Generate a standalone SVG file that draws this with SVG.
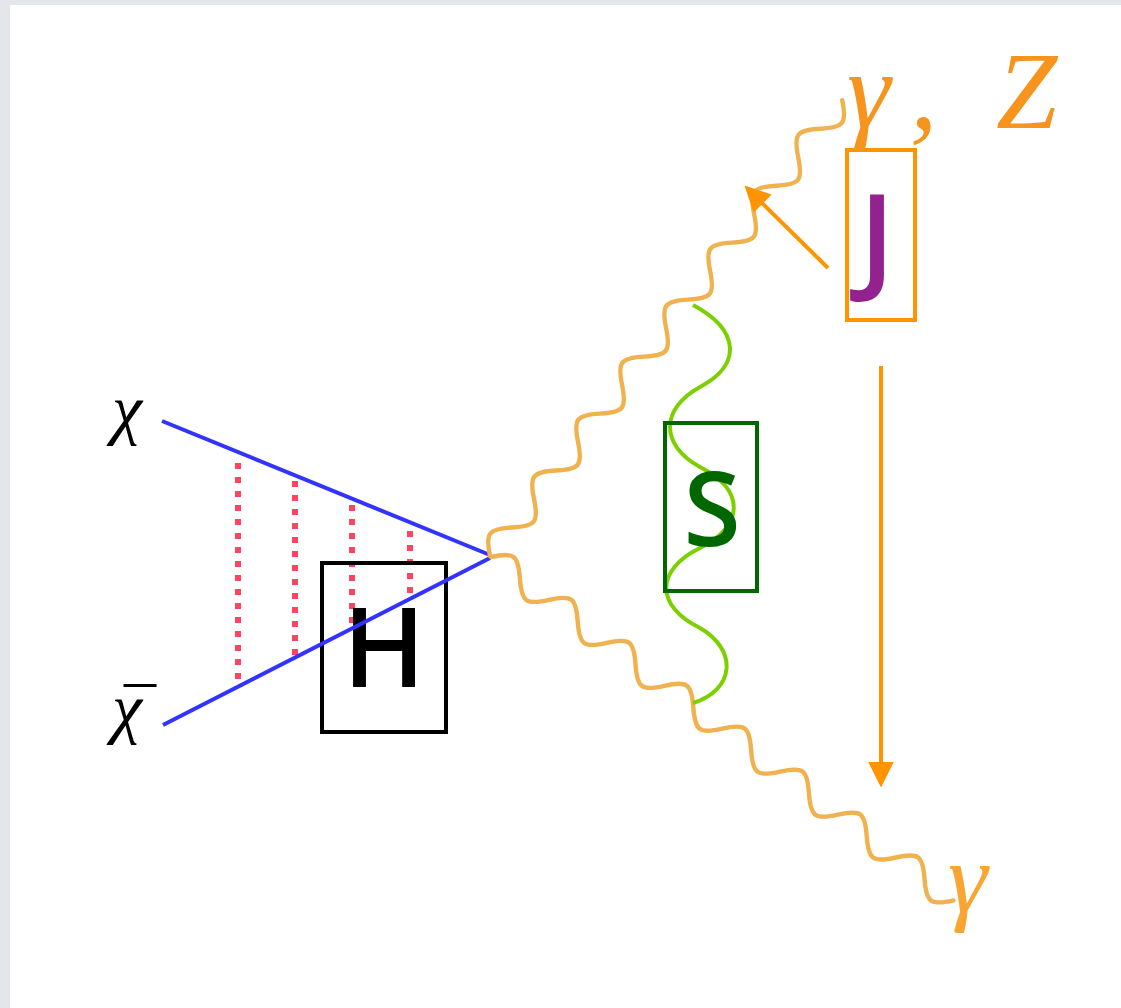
<svg xmlns="http://www.w3.org/2000/svg" width="1121" height="1008" viewBox="0 0 1121 1008">
<style>
.photon{fill:none;stroke:#f0b24e;stroke-width:4.4;stroke-linecap:round}
.fermion{stroke:#3333ff;stroke-width:4;fill:none}
.ladder{stroke:#ff4462;stroke-width:6;stroke-dasharray:6 8;fill:none}
.arrow{stroke:#ff9400;stroke-width:4;fill:none;marker-end:url(#ah)}
.math{font-family:"Liberation Serif","DejaVu Serif",serif;font-style:italic}
.lbl{font-family:"Open Sans","Liberation Sans",sans-serif;font-weight:600}
</style>
<defs>
<marker id="ah" viewBox="0 0 10 10" refX="2" refY="5" markerWidth="6.4" markerHeight="6.4" orient="auto" markerUnits="strokeWidth">
<path d="M0,0 L10,5 L0,10 z" fill="#ff9400"/>
</marker>
</defs>
<rect x="0" y="0" width="1121" height="1008" fill="#e3e6ea"/>
<rect x="10" y="5" width="1111" height="1003" fill="#ffffff"/>

<g id="connectors">
<line class="ladder" x1="238" y1="463" x2="238" y2="684"/>
<line class="ladder" x1="295" y1="481" x2="295" y2="656"/>
<line class="ladder" x1="352" y1="505" x2="352" y2="628"/>
<line class="ladder" x1="410" y1="531" x2="410" y2="598"/>
</g>

<g id="node-H">
<rect x="322" y="563" width="124" height="169" fill="none" stroke="#000" stroke-width="4"/>
<text class="lbl" x="384" y="687" font-size="110" text-anchor="middle" fill="#000">H</text>
</g>

<g id="connectors-lines">
<line class="fermion" x1="162" y1="421" x2="490" y2="555"/>
<line class="fermion" x1="163" y1="725" x2="490" y2="558"/>
<path class="photon" transform="translate(490,556) rotate(-52.3)" d="M0,0 c15.3,-18 20.7,-18 36,0 s20.7,18 36,0 s20.7,-18 36,0 s20.7,18 36,0 s20.7,-18 36,0 s20.7,18 36,0 s20.7,-18 36,0 s20.7,18 36,0 s20.7,-18 36,0 s20.7,18 36,0 s20.7,-18 36,0 s20.7,18 36,0 s20.7,-18 36,0 s20.7,18 36,0 s20.7,-18 36,0 s20.7,18 36,0"/>
<path class="photon" transform="translate(491,557) rotate(36.6)" d="M0,0 c15.3,-18 20.7,-18 36,0 s20.7,18 36,0 s20.7,-18 36,0 s20.7,18 36,0 s20.7,-18 36,0 s20.7,18 36,0 s20.7,-18 36,0 s20.7,18 36,0 s20.7,-18 36,0 s20.7,18 36,0 s20.7,-18 36,0 s20.7,18 36,0 s20.7,-18 36,0 s20.7,18 36,0 s20.7,-18 36,0 s20.7,18 36,0"/>
<path d="M693,305 C740,330 742,365 700,387 C660,409 660,445 700,467 C745,490 745,525 700,548 C655,570 655,606 700,628 C738,650 735,690 693,703" fill="none" stroke="#7dd000" stroke-width="4"/>
<line class="arrow" x1="828" y1="268" x2="759" y2="200"/>
<line class="arrow" x1="881" y1="366" x2="881" y2="767"/>
</g>

<g id="node-S">
<rect x="665" y="423" width="92" height="168" fill="none" stroke="#006600" stroke-width="4"/>
<text class="lbl" x="712" y="546" font-size="104" text-anchor="middle" fill="#006600">S</text>
</g>

<g id="node-J">
<rect x="847" y="150" width="68" height="170" fill="none" stroke="#ff9400" stroke-width="4"/>
<text class="lbl" x="877" y="279" font-size="118" text-anchor="middle" fill="#93218e">J</text>
</g>

<g id="labels">
<text class="math" x="112" y="432" font-size="68" fill="#000">χ</text>
<text class="math" x="112" y="731" font-size="68" fill="#000">χ<tspan x="124" y="732" font-style="normal" font-size="64">¯</tspan></text>
<text class="math" font-size="110" fill="#f7941d" y="128"><tspan x="847">γ</tspan><tspan x="910">,</tspan><tspan x="996">Z</tspan></text>
<text class="math" x="948" y="912" font-size="100" fill="#f9a533">γ</text>
</g>
</svg>
